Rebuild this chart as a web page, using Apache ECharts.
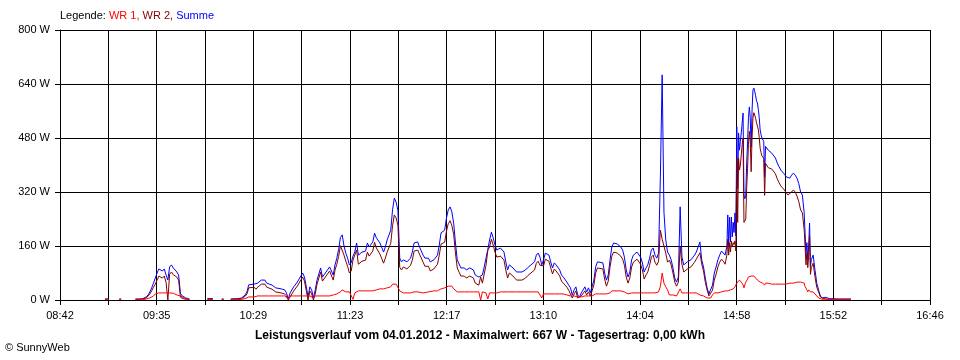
<!DOCTYPE html>
<html><head><meta charset="utf-8">
<script src="https://cdn.jsdelivr.net/npm/echarts@6/dist/echarts.min.js"></script>
<style>html,body{margin:0;padding:0;background:#fff}#c{width:960px;height:360px}</style>
</head><body><div id="c"></div>
<script>
// Sample times (HH:MM or HH:MM:SS)
const times = [
 '09:07','09:09','09:10','09:15','09:16','09:17','09:24','09:26','09:28','09:29','09:30','09:31','09:32','09:33','09:34','09:35','09:36','09:37','09:38','09:39','09:40','09:41','09:42','09:43','09:44','09:45','09:46','09:47','09:48','09:49','09:50','09:51','09:52','09:53','09:54','09:55',
 '10:04','10:07','10:08','10:12','10:13','10:14','10:17','10:21','10:22','10:23','10:24','10:25','10:26','10:27','10:28','10:30','10:31','10:32','10:34','10:36','10:37','10:38','10:40','10:42','10:43','10:45','10:47','10:48','10:49','10:50','10:52','10:53','10:54','10:55','10:57','10:58','10:59',
 '11:00','11:01','11:02','11:03','11:04','11:05','11:07','11:08','11:10','11:12','11:14','11:15','11:16','11:17','11:18','11:19','11:20','11:21','11:22','11:23','11:24','11:25','11:26','11:27','11:28','11:30','11:32','11:33','11:34','11:36','11:37','11:38','11:40','11:42','11:43','11:44','11:46','11:47','11:48','11:49','11:50','11:51','11:52','11:53','11:55','11:57','11:58','11:59',
 '12:01','12:02','12:04','12:05','12:07','12:08','12:10','12:12','12:13','12:14','12:16','12:17','12:18','12:19','12:20','12:21','12:22','12:23','12:25','12:27','12:28','12:30','12:32','12:33','12:35','12:36','12:37','12:38','12:39','12:40','12:41','12:42','12:43','12:44','12:45','12:47','12:48','12:49','12:50','12:51','12:52','12:54','12:56','12:57','12:59',
 '13:01','13:02','13:04','13:06','13:07','13:08','13:09','13:10','13:11','13:12','13:13','13:14','13:15','13:16','13:17','13:18','13:20','13:21','13:22','13:24','13:25','13:26','13:27','13:28','13:29','13:30','13:31','13:32','13:34','13:35','13:36','13:37','13:38','13:39','13:40','13:41','13:42','13:44','13:45','13:46','13:47','13:48','13:49','13:50','13:52','13:54','13:55','13:56','13:57','13:58','13:59',
 '14:00','14:01','14:03','14:05','14:06','14:07','14:08','14:09','14:10','14:11','14:12','14:13','14:14','14:15','14:16','14:17','14:18','14:19','14:20','14:21','14:22','14:23','14:24','14:25','14:26','14:27','14:28','14:29','14:30','14:31','14:32','14:33','14:34','14:35','14:36','14:37','14:38','14:39','14:40','14:41','14:42','14:43','14:44','14:45','14:46','14:47','14:48','14:49','14:50','14:51','14:52',
 '14:53','14:53:30','14:54','14:54:30','14:55','14:55:30','14:56','14:56:30','14:57','14:57:30','14:58','14:58:30','14:59','14:59:30','15:00','15:00:30','15:01','15:01:30','15:02','15:02:30','15:03','15:03:30','15:04','15:04:30','15:05','15:05:30','15:06','15:06:30','15:07','15:07:30','15:08','15:08:30','15:09','15:09:30','15:10','15:10:30','15:11','15:11:30','15:12','15:12:30','15:13','15:13:30','15:14','15:14:30','15:15',
 '15:16','15:17','15:18','15:19','15:20','15:21','15:22','15:23','15:24','15:25','15:26','15:27','15:28','15:29','15:30','15:31','15:32','15:33','15:34','15:35','15:36','15:36:30','15:37','15:37:30','15:38','15:38:30','15:39','15:39:30','15:40','15:41','15:42','15:43','15:44','15:45','15:46','15:47','15:48','15:49','15:50','15:55','16:00','16:02'
];
// Summe (W)
const summe = [
 3,3,null,3,3,null,3,3,4,6,9,15,24,36,50,65,80,92,95,86,92,74,59,98,104,95,89,83,74,20,12,9,6,5,3,null,
 4,4,null,3,3,null,3,4,4,6,9,15,24,45,47,47,44,50,59,59,50,47,44,36,36,33,30,21,3,21,39,44,53,50,80,68,40,
 9,39,30,6,30,59,95,68,83,98,74,104,124,150,185,193,160,139,124,104,110,130,142,169,133,142,145,169,157,172,198,184,169,142,157,178,207,267,302,290,265,124,113,119,113,124,142,169,
 172,157,133,124,124,113,119,133,163,199,207,243,267,276,261,228,169,119,95,95,89,95,89,74,68,70,74,98,124,150,178,201,184,163,148,154,157,142,113,89,104,95,83,80,83,
 89,95,104,113,133,139,127,104,119,139,142,133,113,95,110,104,89,74,68,53,44,36,15,30,39,15,9,21,39,24,36,21,39,59,98,113,110,110,80,59,74,119,157,169,166,157,148,127,89,68,83,
 119,133,142,127,110,83,95,104,124,148,154,133,124,139,364,667,260,178,142,133,119,95,65,53,68,276,127,104,107,113,113,119,124,133,142,139,172,119,98,65,36,18,21,44,80,98,119,133,145,142,133,
 160,252,160,245,172,246,187,230,200,258,190,513,330,495,444,470,495,524,554,311,300,311,400,465,540,572,540,453,560,622,628,618,605,590,584,565,540,504,490,480,478,470,364,455,450,
 444,439,435,430,421,406,395,385,379,373,365,361,361,370,376,370,361,345,320,311,258,200,140,170,120,160,228,100,120,133,90,50,30,12,6,6,8,4,4,3,3,3
];
// WR 1 (W)
const wr1 = [
 1,1,null,1,1,null,1,1,1,2,3,3,6,9,12,18,21,21,21,21,21,21,21,21,21,20,18,15,15,12,9,6,4,3,2,null,
 1,1,null,1,1,null,1,1,1,2,3,4,6,9,9,9,12,12,12,12,12,12,12,12,12,12,12,9,3,12,12,12,12,12,12,12,12,
 9,12,12,6,12,12,12,12,12,12,15,15,18,21,24,30,27,24,24,24,24,2,21,21,27,27,27,27,27,27,27,30,33,33,33,36,39,47,50,47,44,27,24,21,21,21,24,24,
 24,21,21,24,24,27,27,27,30,33,36,39,41,41,41,33,30,24,24,24,24,24,24,24,24,0,24,21,21,3,21,21,21,21,21,24,24,24,24,24,24,24,24,24,24,
 24,24,24,24,24,24,24,6,18,18,18,18,18,18,18,18,18,18,18,15,15,12,9,12,12,9,6,9,12,9,12,9,12,15,18,18,18,18,18,18,18,21,27,27,27,27,27,24,21,18,18,
 21,21,21,21,21,21,21,21,21,21,21,21,21,24,40,80,50,39,30,15,15,15,12,12,15,33,21,21,21,21,21,21,21,21,21,21,15,12,12,12,6,6,6,15,21,21,21,21,24,27,27,
 27,27,27,30,30,30,30,33,36,39,45,50,53,56,59,56,53,50,45,36,45,53,56,62,68,71,71,71,74,74,71,68,65,62,59,59,56,53,53,53,50,50,44,50,50,
 50,50,47,47,47,47,47,47,47,47,47,50,50,50,50,50,53,53,53,53,50,40,36,30,24,30,30,24,24,24,21,12,6,3,2,2,3,2,1,1,1,1
];
// WR 2 (W)
const wr2 = [
 2,2,null,2,2,null,2,2,3,4,6,12,18,27,38,47,59,71,74,65,71,53,0,77,83,75,71,68,59,8,3,3,2,2,1,null,
 3,3,null,2,2,null,2,3,3,4,6,11,18,36,38,38,32,38,47,47,38,35,32,24,24,21,18,12,0,9,27,32,41,38,68,56,28,
 0,27,18,0,18,47,83,56,71,86,59,89,106,129,161,163,133,115,100,80,86,118,121,148,106,115,118,142,130,145,171,154,136,109,124,142,168,220,252,243,221,97,89,98,92,103,118,145,
 148,136,112,100,100,86,92,106,133,166,171,204,226,235,220,195,139,95,71,71,65,71,65,50,44,68,50,77,103,147,157,180,163,142,127,130,133,118,89,65,80,71,59,56,59,
 65,71,80,89,109,115,103,98,101,121,124,115,95,77,92,86,71,56,50,38,29,24,6,18,27,6,3,12,27,15,24,12,27,44,80,95,92,92,62,41,56,98,130,142,139,130,121,103,68,50,65,
 98,112,121,106,89,62,74,83,103,127,133,112,103,115,207,180,160,139,112,118,104,80,53,41,53,157,106,83,86,92,92,98,103,112,121,118,140,107,86,53,30,12,15,29,59,77,98,112,121,115,106,
 133,180,133,170,142,175,157,170,164,175,145,420,230,420,385,400,430,460,480,230,225,240,330,390,460,500,470,380,480,540,555,548,538,525,522,505,482,450,437,427,428,420,310,405,400,
 392,389,388,383,374,359,348,338,332,326,318,311,311,320,326,320,308,292,267,258,208,160,104,140,96,130,190,76,96,109,69,38,24,9,4,4,5,2,3,2,2,2
];
const xTickLabels = ['08:42','09:35','10:29','11:23','12:17','13:10','14:04','14:58','15:52','16:46'];
const yMax = 800, yStep = 160;
const seriesNames = ['WR 1', 'WR 2', 'Summe'];
const titleText = 'Leistungsverlauf vom 04.01.2012 - Maximalwert: 667 W - Tagesertrag: 0,00 kWh';
const copyrightText = '\u00A9 SunnyWeb';

const FONT = '"Liberation Sans", Arial, sans-serif';
function toMin(t){ const p = t.split(':').map(Number); return p[0]*60 + p[1] + (p[2]||0)/60; }
const t0 = toMin(xTickLabels[0]), t1 = toMin(xTickLabels[xTickLabels.length-1]);
const cells = (xTickLabels.length - 1) * 2;
const toX = t => (toMin(t) - t0) / (t1 - t0) * cells;
const pts = arr => times.map((t, i) => [toX(t), arr[i]]);

const chart = echarts.init(document.getElementById('c'), null, {renderer: 'canvas'});
const black = '#000';
chart.setOption({
  animation: false,
  backgroundColor: '#fff',
  grid: {left: 60, right: 30, top: 30, bottom: 60, containLabel: false},
  xAxis: {
    type: 'value', min: 0, max: cells, interval: 1,
    axisLine: {show: true, lineStyle: {color: black, width: 1}},
    axisTick: {show: true, length: 5, lineStyle: {color: black, width: 1}},
    splitLine: {show: true, lineStyle: {color: black, width: 1}},
    axisLabel: {
      margin: 10, color: black, fontSize: 11, fontFamily: FONT,
      showMinLabel: true, showMaxLabel: true,
      formatter: v => { const i = Math.round(v); return i % 2 === 0 ? xTickLabels[i/2] : ''; }
    }
  },
  yAxis: {
    type: 'value', min: 0, max: yMax, interval: yStep,
    axisLine: {show: true, lineStyle: {color: black, width: 1}},
    axisTick: {show: true, length: 5, lineStyle: {color: black, width: 1}},
    splitLine: {show: true, lineStyle: {color: black, width: 1}},
    axisLabel: {margin: 10, color: black, fontSize: 11, fontFamily: FONT, formatter: '{value} W'}
  },
  series: [
    {name: seriesNames[2], type: 'line', data: pts(summe), showSymbol: false, connectNulls: false,
     lineStyle: {color: '#0000ff', width: 1}, itemStyle: {color: '#0000ff'}, z: 3},
    {name: seriesNames[1], type: 'line', data: pts(wr2), showSymbol: false, connectNulls: false,
     lineStyle: {color: '#800000', width: 1}, itemStyle: {color: '#800000'}, z: 4},
    {name: seriesNames[0], type: 'line', data: pts(wr1), showSymbol: false, connectNulls: false,
     lineStyle: {color: '#ff0000', width: 1}, itemStyle: {color: '#ff0000'}, z: 5}
  ],
  graphic: [
    {type: 'text', left: 60, top: 10, style: {
      text: '{k|Legende: }{a|' + seriesNames[0] + ',} {b|' + seriesNames[1] + ',} {c|' + seriesNames[2] + '}',
      font: '11px ' + FONT, fill: black,
      rich: {
        k: {fill: black, font: '11px ' + FONT},
        a: {fill: '#ff0000', font: '11px ' + FONT},
        b: {fill: '#800000', font: '11px ' + FONT},
        c: {fill: '#0000ff', font: '11px ' + FONT}
      }
    }},
    {type: 'text', left: 'center', top: 330, style: {text: titleText, font: 'bold 12px ' + FONT, fill: black}},
    {type: 'text', left: 5, top: 342, style: {text: copyrightText, font: '11px ' + FONT, fill: black}}
  ]
});
</script>
</body></html>
